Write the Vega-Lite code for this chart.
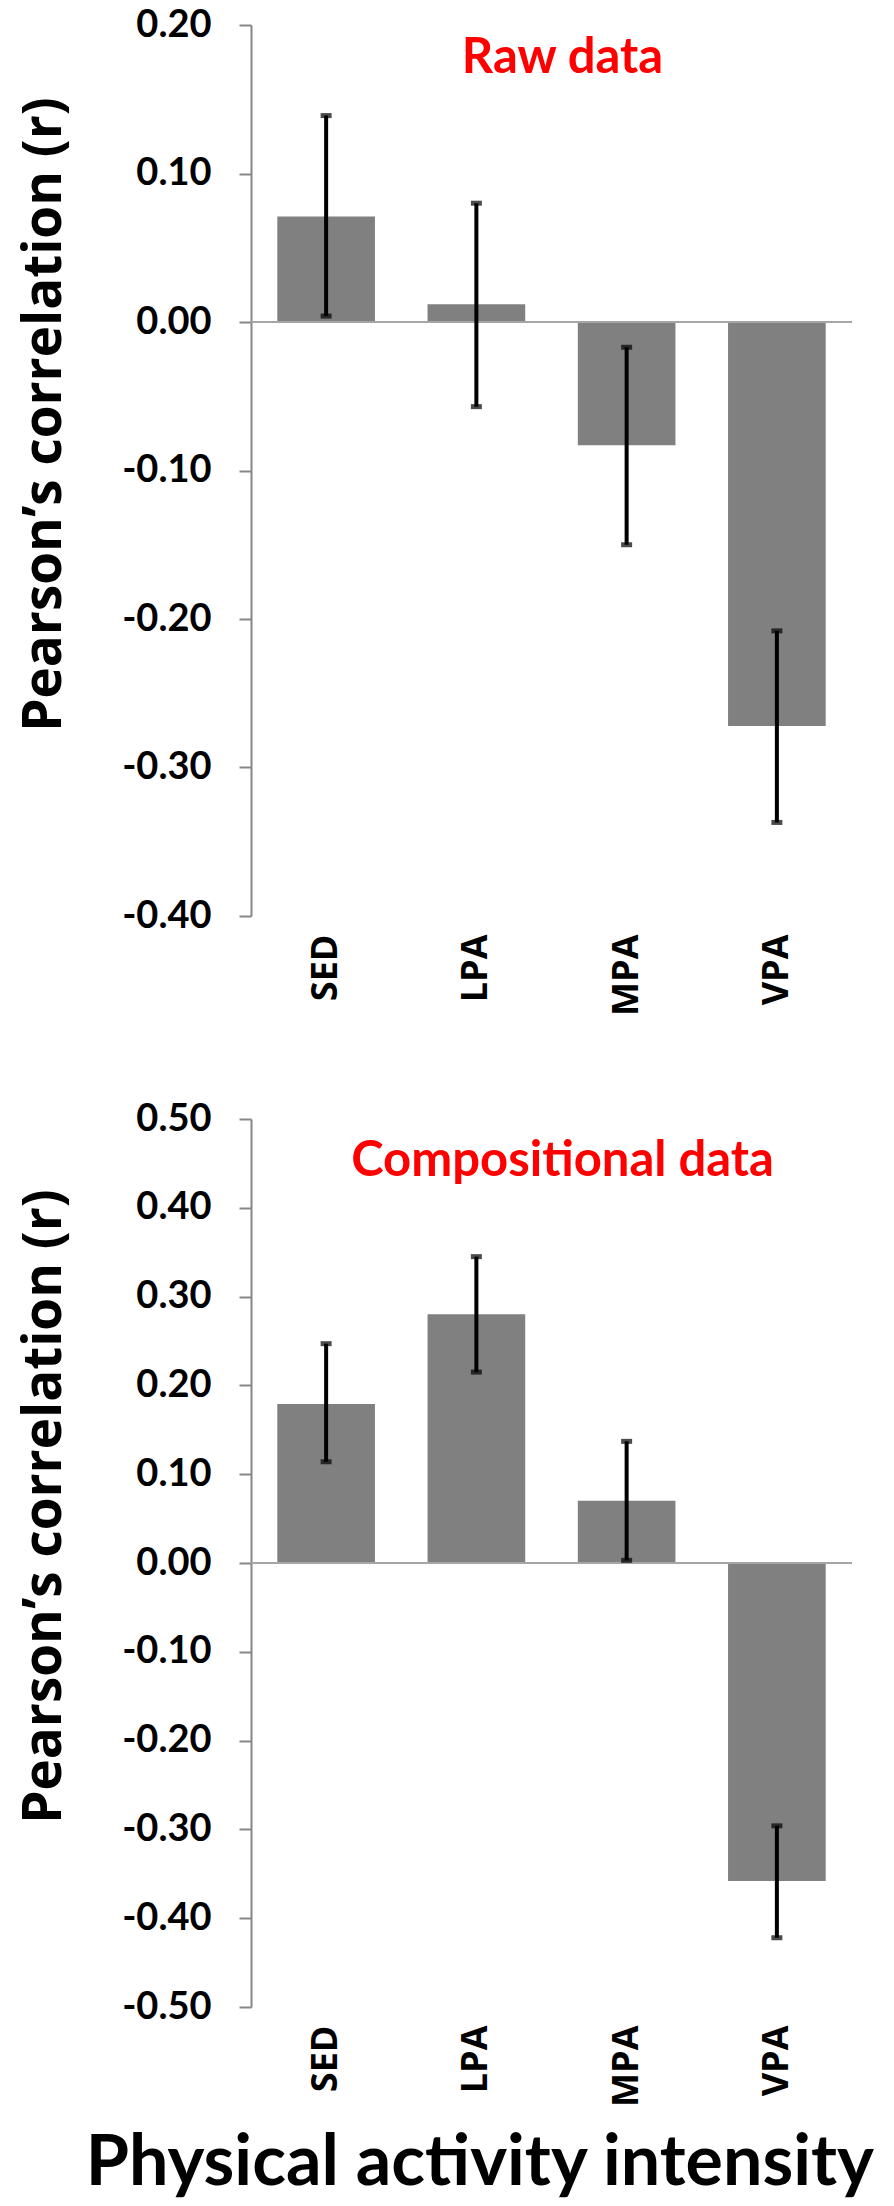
{
  "$schema": "https://vega.github.io/schema/vega-lite/v6.json",
  "background": "white",
  "padding": {"left": 18, "top": 6, "right": 0, "bottom": 0},
  "config": {
    "view": {"stroke": null},
    "axisY": {
      "domainColor": "#868686", "domainWidth": 2,
      "tickColor": "#868686", "tickWidth": 2, "tickSize": 12,
      "grid": false,
      "labelFont": "Lato", "labelFontSize": 38, "labelFontWeight": "bold", "labelColor": "black",
      "labelPadding": 28, "labelOverlap": false, "labelFlush": false,
      "labelExpr": "datum.value < 0 ? '-' + format(-datum.value, '.2f') : format(datum.value, '.2f')",
      "titleFont": "Open Sans", "titleFontSize": 53, "titleFontWeight": "bold", "titleColor": "black",
      "titlePadding": 50
    },
    "axisX": {
      "domain": false, "ticks": false, "grid": false,
      "labelAngle": -90, "labelFont": "Open Sans", "labelFontSize": 36, "labelFontWeight": "bold",
      "labelColor": "black", "labelPadding": 18, "title": null
    }
  },
  "datasets": {
    "raw": [
      {"activity": "SED", "r": 0.071, "lo": 0.004, "hi": 0.139},
      {"activity": "LPA", "r": 0.012, "lo": -0.057, "hi": 0.080},
      {"activity": "MPA", "r": -0.083, "lo": -0.150, "hi": -0.017},
      {"activity": "VPA", "r": -0.272, "lo": -0.337, "hi": -0.208}
    ],
    "comp": [
      {"activity": "SED", "r": 0.179, "lo": 0.114, "hi": 0.247},
      {"activity": "LPA", "r": 0.280, "lo": 0.215, "hi": 0.345},
      {"activity": "MPA", "r": 0.070, "lo": 0.003, "hi": 0.137},
      {"activity": "VPA", "r": -0.358, "lo": -0.422, "hi": -0.296}
    ]
  },
  "title": {
    "text": "Physical activity intensity", "orient": "bottom", "anchor": "middle",
    "font": "Lato", "fontSize": 70, "fontWeight": "bold", "color": "black",
    "offset": 24, "dx": 44
  },
  "spacing": 84,
  "vconcat": [
    {
      "width": 601, "height": 891,
      "title": {"text": "Raw data", "color": "#FF0000", "font": "Lato", "fontSize": 49, "fontWeight": "bold", "anchor": "middle", "frame": "group", "offset": -116, "baseline": "alphabetic", "dx": 11},
      "data": {"name": "raw"},
      "layer": [
        {
          "mark": {"type": "bar", "color": "#808080"},
          "encoding": {
            "x": {"field": "activity", "type": "nominal", "sort": null, "scale": {"paddingInner": 0.35, "paddingOuter": 0.175}},
            "y": {"field": "r", "type": "quantitative", "scale": {"domain": [-0.4, 0.2], "nice": false, "zero": false},
                  "axis": {"values": [-0.4, -0.3, -0.2, -0.1, 0, 0.1, 0.2], "title": "Pearson’s correlation (r)", "titleY": 389}}
          }
        },
        {
          "mark": {"type": "rule", "color": "#A6A6A6", "strokeWidth": 2},
          "encoding": {"y": {"datum": 0}}
        },
        {
          "mark": {"type": "rule", "color": "black", "strokeWidth": 4},
          "encoding": {
            "x": {"field": "activity", "type": "nominal", "sort": null},
            "y": {"field": "lo", "type": "quantitative"},
            "y2": {"field": "hi"}
          }
        },
        {
          "mark": {"type": "tick", "color": "black", "thickness": 5, "size": 11, "orient": "horizontal"},
          "encoding": {
            "x": {"field": "activity", "type": "nominal", "sort": null},
            "y": {"field": "lo", "type": "quantitative"}
          }
        },
        {
          "mark": {"type": "tick", "color": "black", "thickness": 5, "size": 11, "orient": "horizontal"},
          "encoding": {
            "x": {"field": "activity", "type": "nominal", "sort": null},
            "y": {"field": "hi", "type": "quantitative"}
          }
        }
      ]
    },
    {
      "width": 601, "height": 888,
      "title": {"text": "Compositional data", "color": "#FF0000", "font": "Lato", "fontSize": 49, "fontWeight": "bold", "anchor": "middle", "frame": "group", "offset": -125, "baseline": "alphabetic", "dx": 11},
      "data": {"name": "comp"},
      "layer": [
        {
          "mark": {"type": "bar", "color": "#808080"},
          "encoding": {
            "x": {"field": "activity", "type": "nominal", "sort": null, "scale": {"paddingInner": 0.35, "paddingOuter": 0.175}},
            "y": {"field": "r", "type": "quantitative", "scale": {"domain": [-0.5, 0.5], "nice": false, "zero": false},
                  "axis": {"values": [-0.5, -0.4, -0.3, -0.2, -0.1, 0, 0.1, 0.2, 0.3, 0.4, 0.5], "title": "Pearson’s correlation (r)", "titleY": 387}}
          }
        },
        {
          "mark": {"type": "rule", "color": "#A6A6A6", "strokeWidth": 2},
          "encoding": {"y": {"datum": 0}}
        },
        {
          "mark": {"type": "rule", "color": "black", "strokeWidth": 4},
          "encoding": {
            "x": {"field": "activity", "type": "nominal", "sort": null},
            "y": {"field": "lo", "type": "quantitative"},
            "y2": {"field": "hi"}
          }
        },
        {
          "mark": {"type": "tick", "color": "black", "thickness": 5, "size": 11, "orient": "horizontal"},
          "encoding": {
            "x": {"field": "activity", "type": "nominal", "sort": null},
            "y": {"field": "lo", "type": "quantitative"}
          }
        },
        {
          "mark": {"type": "tick", "color": "black", "thickness": 5, "size": 11, "orient": "horizontal"},
          "encoding": {
            "x": {"field": "activity", "type": "nominal", "sort": null},
            "y": {"field": "hi", "type": "quantitative"}
          }
        }
      ]
    }
  ]
}
